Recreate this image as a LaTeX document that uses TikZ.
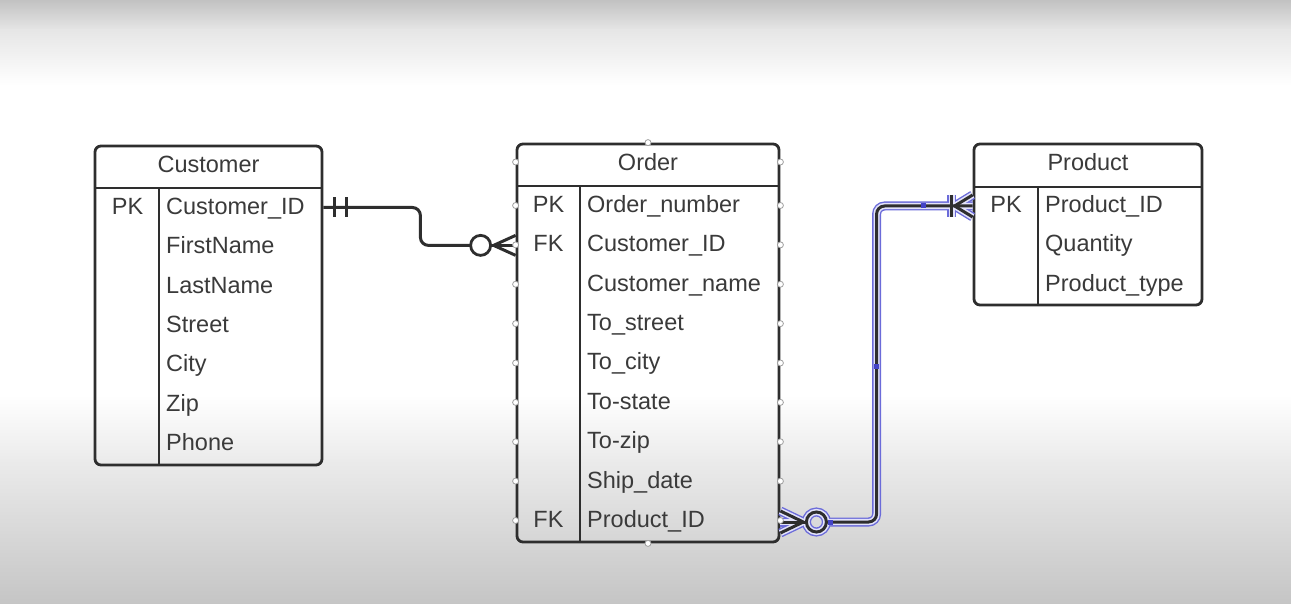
\documentclass[tikz,border=0pt]{standalone}
\usepackage{fontspec}
\setmainfont{Liberation Sans}
\usetikzlibrary{calc}
\definecolor{ink}{HTML}{2E2E2E}
\definecolor{txt}{HTML}{3A3A3A}
\definecolor{sel}{HTML}{6B6BD9}
\definecolor{selband}{HTML}{E2E2FA}
\definecolor{hsq}{HTML}{4343C6}
\definecolor{bgtop}{HTML}{C2C2C2}
\definecolor{bgmid}{HTML}{E6E6E6}
\definecolor{bglow}{HTML}{EBEBEB}
\definecolor{bgbot}{HTML}{C5C5C5}
\begin{document}
\begin{tikzpicture}[x=1pt,y=-1pt,
  tbl/.style={draw=ink, line width=2.8pt, rounded corners=6pt, inner sep=0pt},
  sepline/.style={draw=ink, line width=2.6pt},
  lbl/.style={text=txt, font=\fontsize{23.5}{28}\selectfont, inner sep=0pt, anchor=west, text height=16.8pt, text depth=0pt},
  keylbl/.style={text=txt, font=\fontsize{23.5}{28}\selectfont, inner sep=0pt, anchor=center, text height=16.8pt, text depth=0pt},
  conn/.style={draw=ink, line width=3pt},
  hnd/.style={circle, draw=gray!75, fill=white, line width=0.8pt, inner sep=0pt, minimum size=6pt},
  hsqr/.style={rectangle, fill=hsq, inner sep=0pt, minimum size=5pt}]
% background
\useasboundingbox (0,0) rectangle (1291,604);
\shade[top color=bgtop, bottom color=bgmid] (0,0) rectangle (1291,30.5);
\shade[top color=bgmid, bottom color=white] (0,30) rectangle (1291,85.5);
\fill[white] (0,85) rectangle (1291,395.5);
\shade[top color=white, bottom color=bglow] (0,395) rectangle (1291,460.5);
\shade[top color=bglow, bottom color=bgbot] (0,460) rectangle (1291,604);

% ---------- Customer ----------
\node[tbl, minimum width=227pt, minimum height=319pt] (cust) at (208.5,305.5) {};
\draw[sepline] (95,188) -- (322,188);
\draw[sepline] (159,188) -- (159,465);
\node[keylbl] (custh) at (208.5,164) {Customer};
\node[keylbl] (custk1) at (127.5,206) {PK};
\foreach \t [count=\i] in {Customer\_ID,FirstName,LastName,Street,City,Zip,Phone}
  \node[lbl] (c\i) at (166,{206+39.33*(\i-1)}) {\t};

% ---------- Order ----------
\node[tbl, minimum width=262pt, minimum height=398pt] (ord) at (648,343) {};
\draw[sepline] (517,186) -- (779,186);
\draw[sepline] (580,186) -- (580,542);
\node[keylbl] (ordh) at (648,162) {Order};
\node[keylbl] (ordk1) at (548.5,204) {PK};
\node[keylbl] (ordk2) at (548.5,243.4) {FK};
\node[keylbl] (ordk9) at (548.5,519) {FK};
\foreach \t [count=\i] in {Order\_number,Customer\_ID,Customer\_name,To\_street,To\_city,To-state,To-zip,Ship\_date,Product\_ID}
  \node[lbl] (o\i) at (587,{204+39.375*(\i-1)}) {\t};

% ---------- Product ----------
\node[tbl, minimum width=228pt, minimum height=161pt] (prod) at (1088,224.5) {};
\draw[sepline] (974,187) -- (1202,187);
\draw[sepline] (1038,187) -- (1038,305);
\node[keylbl] (prodh) at (1088,162) {Product};
\node[keylbl] (prodk1) at (1006,204) {PK};
\foreach \t [count=\i] in {Product\_ID,Quantity,Product\_type}
  \node[lbl] (p\i) at (1045,{204+39.4*(\i-1)}) {\t};

% ---------- Connector Customer -> Order ----------
\coordinate (s1) at ($(cust.east |- c1.west)+(0,1.5)$);
\coordinate (e1) at ($(ord.west |- o2.west)+(0,2)$);
\draw[conn, rounded corners=8pt] (s1) -- ++(97,0) |- ($(e1)+(-45,0)$);
\draw[conn] ($(s1)+(11,-10)$) -- ($(s1)+(11,10)$);
\draw[conn] ($(s1)+(23,-10)$) -- ($(s1)+(23,10)$);
\draw[conn, line width=2.8pt] ($(e1)+(-35,0)$) circle (10pt);
\draw[conn] ($(e1)+(0,-10)$) -- ($(e1)+(-22,0)$) -- ($(e1)+(0,10)$);
\draw[conn] ($(e1)+(-25,0)$) -- (e1);

% ---------- Connector Order -> Product (selected) ----------
\coordinate (s2) at ($(ord.east |- o9.west)+(0,3)$);
\coordinate (e2) at ($(prod.west |- p1.west)+(0,2)$);
\foreach \w/\c in {9/sel,6.2/selband,3/ink}{
  \draw[draw=\c, line width=\w pt, rounded corners=8pt] ($(s2)+(46,0)$) -| ($(e2)+(-96,0)$) -- (e2);
  \draw[draw=\c, line width=\w pt, line join=round] ($(s2)+(0,-11)$) -- ($(s2)+(23,0)$) -- ($(s2)+(0,11)$);
  \draw[draw=\c, line width=\w pt] (s2) -- ($(s2)+(26,0)$);
  \draw[draw=\c, line width=\w pt] ($(s2)+(36,0)$) circle (10pt);
  \draw[draw=\c, line width=\w pt] ($(e2)+(-21,-11)$) -- ($(e2)+(-21,11)$);
  \draw[draw=\c, line width=\w pt, line join=round] ($(e2)+(0,-11)$) -- ($(e2)+(-18,0)$) -- ($(e2)+(0,11)$);
}
\node[hsqr] (hq1) at ($(e2)+(-49,0)$) {};
\node[hsqr] (hq2) at ($(e2)+(-96,160)$) {};
\node[hsqr] (hq3) at ($(s2)+(50,0)$) {};

% ---------- Order handles ----------
\node[hnd] (ht) at (ord.north) {};
\node[hnd] (hb) at (ord.south) {};
\node[hnd] (hlh) at (ord.west |- ordh) {};
\node[hnd] (hrh) at (ord.east |- ordh) {};
\foreach \i in {1,...,9}{
  \node[hnd] (hl\i) at ($(ord.west |- o\i.west)+(0,1.5)$) {};
  \node[hnd] (hr\i) at ($(ord.east |- o\i.west)+(0,1.5)$) {};
}
\end{tikzpicture}
\end{document}
